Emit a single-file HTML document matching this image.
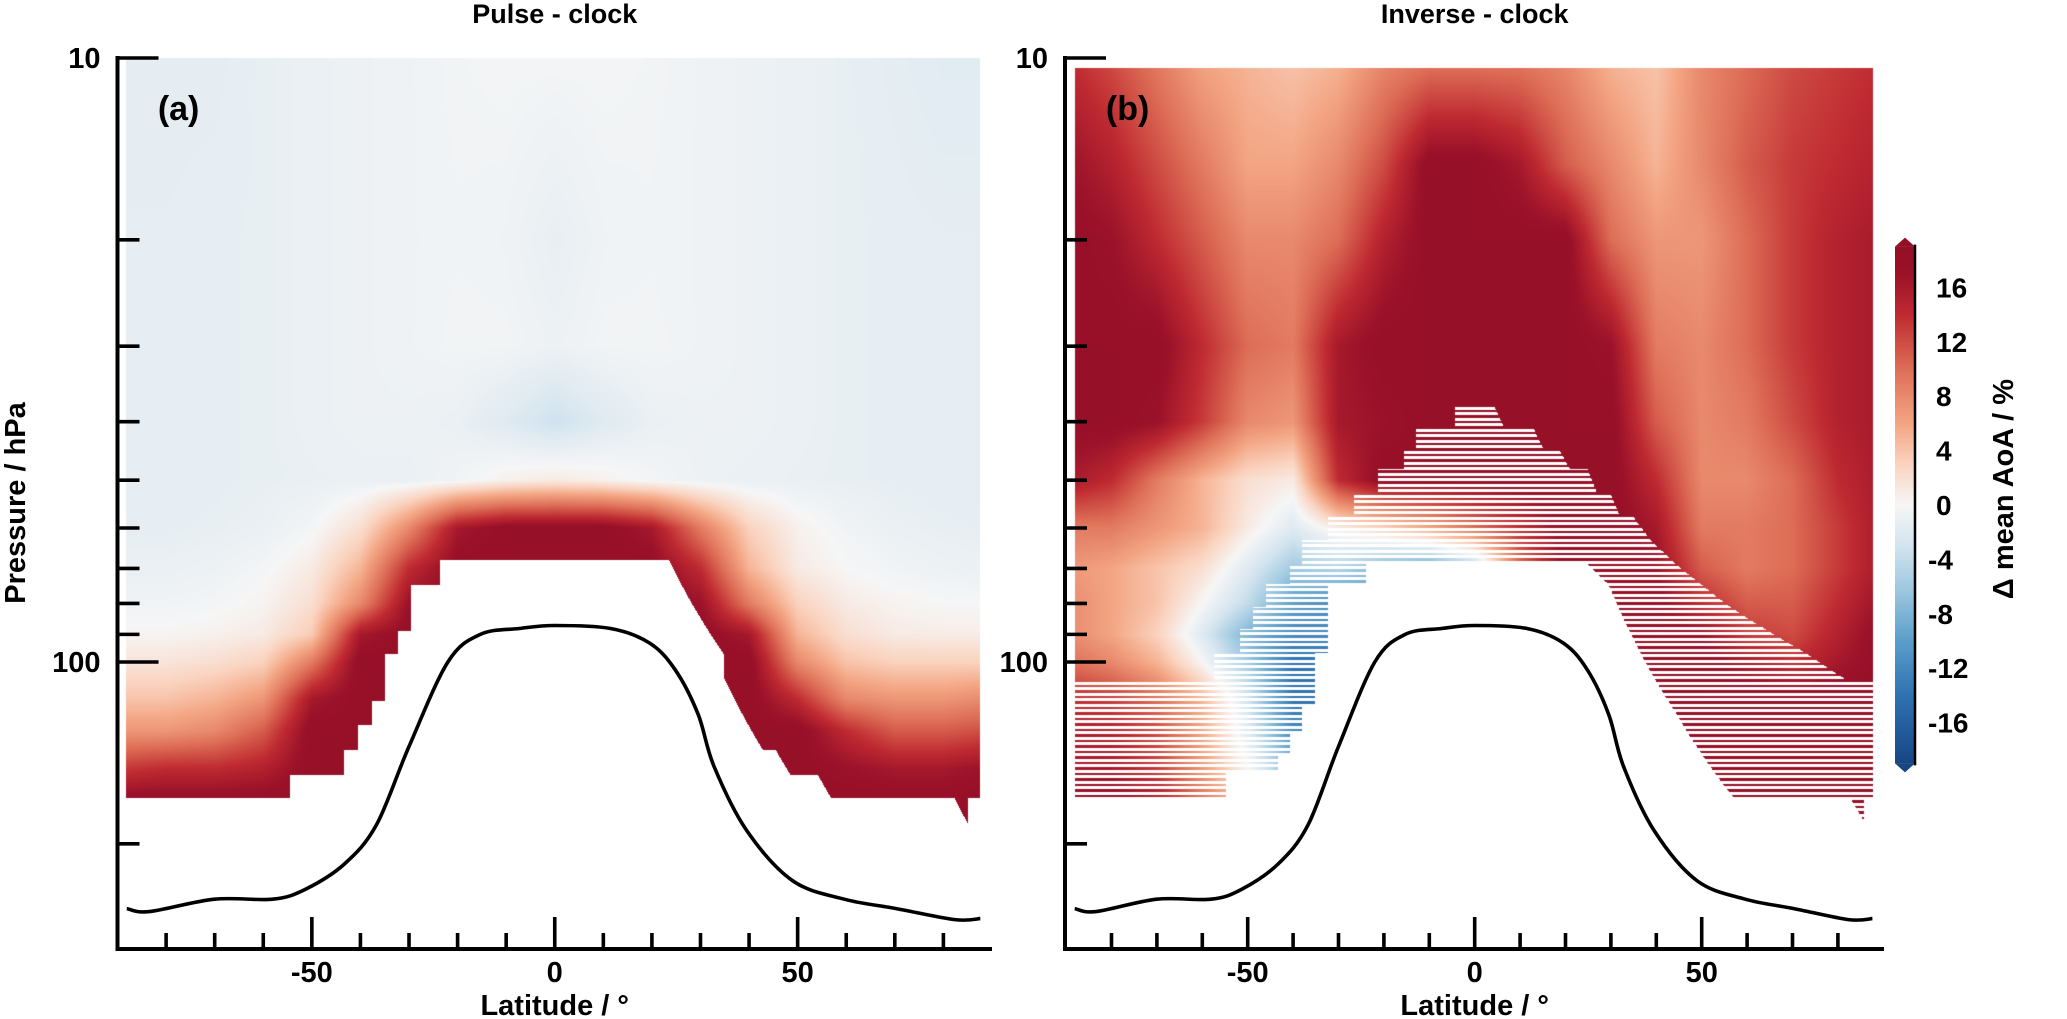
<!DOCTYPE html>
<html><head><meta charset="utf-8"><style>
html,body{margin:0;padding:0;background:#fff;}
#wrap{position:relative;width:2067px;height:1019px;overflow:hidden;font-family:"Liberation Sans",Arial,sans-serif;}
canvas{position:absolute;left:0;top:0;}
svg{position:absolute;left:0;top:0;}
</style></head><body>
<div id="wrap">
<canvas id="cv" width="2067" height="1019"></canvas>
<svg id="sv" width="2067" height="1019"></svg>
</div>
<script>
// ---------- data ----------
const latGrid = [-90,-80,-70,-60,-50,-40,-30,-20,-10,0,10,20,30,40,50,60,70,80,90];
const levelsA = [10,20,30,40,50,60,70,80,90,100,115,130,150,170];
const valuesA = [
 [-1.5,-1.5,-1.5,-1.2,-1,-0.8,-0.6,-0.4,-0.3,-0.3,-0.3,-0.4,-0.6,-0.8,-1,-1.2,-1.5,-1.8,-1.8],
 [-1.4,-1.4,-1.3,-1.2,-1,-0.8,-0.6,-0.5,-0.6,-1.2,-0.6,-0.5,-0.6,-0.8,-1,-1.2,-1.3,-1.4,-1.4],
 [-1.4,-1.4,-1.3,-1.2,-1,-0.8,-0.6,-0.4,-0.4,-0.8,-0.4,-0.4,-0.6,-0.8,-1,-1.2,-1.3,-1.4,-1.4],
 [-1.4,-1.4,-1.3,-1.2,-1,-0.8,-0.8,-1,-2,-3.2,-2,-1,-0.8,-0.8,-1,-1.2,-1.3,-1.4,-1.4],
 [-1.4,-1.4,-1.3,-1.2,-1.1,-1,-1,-0.5,0.5,1,0.5,-0.3,-0.8,-1,-1.1,-1.2,-1.3,-1.4,-1.4],
 [-1.3,-1.3,-1.2,-1.0,-0.3,2,8,16,18,18,18,16,9,3,0.5,-0.5,-1,-1.2,-1.3],
 [-1,-1,-0.8,-0.3,1,5,14,18,18,18,18,18,14,5,1,0,-0.5,-0.8,-1],
 [-0.5,-0.5,-0.3,0.3,2,8,17,18,18,18,18,18,17,9,3,1,0.3,0,0],
 [0.2,0.2,0.5,1,3.5,16,18,18,18,18,18,18,18,16,5,2,1,0.8,0.8],
 [1.5,1.5,2,3,9,18,18,18,18,18,18,18,18,18,8,4,3,3,3],
 [4,4,5,7,16,18,18,18,18,18,18,18,18,18,14,8,7,7,8],
 [7,7,8,11,18,18,18,18,18,18,18,18,18,18,18,14,11,11,12],
 [13,14,14,15,18,18,18,18,18,18,18,18,18,18,18,17,16,16,17],
 [18,18,18,18,18,18,18,18,18,18,18,18,18,18,18,18,18,18,18]
];
const levelsB = [10,15,20,30,40,50,60,70,80,90,100,115,130,150,170];
const valuesB = [
 [14,12,9,6,5,4,5,8,9,9,9,8,5,4,8,10,12,13,14],
 [17,15,12,9,6,6,8,12,18,18,16,11,8,5,8,11,13,14,15],
 [18,17,14,11,8,8,10,15,18,18,18,18,10,7,7,10,13,15,16],
 [18,18,18,14,10,9,16,18,18,18,18,18,17,9,8,10,13,15,16],
 [18,18,17,13,8,7,16,17,18,18,18,18,18,11,8,9,12,15,16],
 [16,14,9,5,2,1,14,18,18,18,18,18,18,14,8,8,10,14,16],
 [9,9,7,5,1,-2,1,3,6,10,14,18,18,16,9,9,10,13,16],
 [7,6,4,2,-2,-6,-5,-8,-10,-6,10,18,18,17,11,9,10,13,16],
 [8,6,4,0,-4,-10,-12,-10,-8,-4,8,16,18,18,14,11,11,14,17],
 [8,6,3,-2,-8,-12,-12,-10,-8,-4,8,16,18,18,17,13,12,15,18],
 [10,8,5,0,-6,-14,-14,-10,-8,-4,8,16,18,18,18,16,14,16,18],
 [14,13,10,5,-3,-14,-14,-10,-8,-4,8,16,18,18,18,18,18,18,18],
 [16,15,12,6,-2,-12,-12,-10,-8,-4,8,16,18,18,18,18,18,18,18],
 [16,16,13,7,0,-8,-8,-8,-8,-4,8,16,18,18,18,18,18,18,18],
 [18,18,16,10,4,0,0,0,0,0,8,16,18,18,18,18,18,18,18]
];
const maskALat = [-88.5,-54.4,-54.4,-43.3,-43.3,-40.4,-40.4,-37.7,-37.7,-35,-35,-32.3,-32.3,-29.6,-29.6,-23.7,-23.7,23.5,34.8,34.8,42.9,45.5,48.6,54.2,56.9,82.3,85,85,87.6];
const maskAP   = [168,168,154,154,140,140,127,127,116,116,97,97,89,89,74.5,74.5,67.8,67.8,97,106,140,140,154,154,168,168,185,168,168];
const hatchLat = [-88.1,-57.4,-57.4,-51.6,-51.6,-48.8,-48.8,-45.9,-45.9,-40.6,-40.6,-38.1,-38.1,-32.3,-32.3,-26.6,-26.6,-21.2,-21.2,-15.5,-15.5,-12.9,-12.9,-4.4,-4.4,4.1,6.3,12.7,15,18.4,21,24.9,27,29.9,32,34.9,38.5,44.2,49.9,56.3,64.2,72.8,81.4,87.8];
const hatchP   = [106.5,106.5,96.5,96.5,88.1,88.1,81.1,81.1,74.4,74.4,68.7,68.7,62.9,62.9,57.4,57.4,52.6,52.6,47.9,47.9,44.2,44.2,40.6,40.6,37.4,37.4,40.6,40.6,44.2,44.2,47.9,47.9,52.6,52.6,57.4,57.4,62.5,68.7,74.4,81.1,88.4,96.5,106.5,106.5];
const botBLat = [-88.1,-54.8,-54.8,-43.3,-43.3,-40.6,-40.6,-38.1,-38.1,-35.2,-35.2,-32.3,-32.3,-24,-24,24.2,29.5,44.2,57.1,82.8,85.7,85.7,87.8];
const botBP   = [168,168,152.5,152.5,141.6,141.6,129.9,129.9,117.6,117.6,96.5,96.5,74.4,74.4,68.2,68.2,74.4,121,168,168,183.6,168,168];
const tpLat = [-88.1,-83.4,-70.1,-58.1,-51.4,-43.3,-36.7,-30.0,-22.0,-15.3,-7.3,0,11.5,19.5,24.8,29.5,32.8,39.5,48.9,59.6,70.3,82.3,87.6];
const tpP   = [256,259,247,247,238,216,186,138,100,90,88,87,88,93,103,122,149,190,230,247,256,267,266];
const xTickMajor = [-50,0,50];
const xTickMinor = [-80,-70,-60,-40,-30,-20,-10,10,20,30,40,60,70,80];
const yTickMajor = [10,100];
const yTickMinor = [20,30,40,50,60,70,80,90,200];
const cbTicks = [16,12,8,4,0,-4,-8,-12,-16];
const cmapV = [-19,-18,-14,-10,-6,-3,0,3,6,10,14,17,19];
const cmapC = ['#174682','#1c4f8f','#2f72b1','#5c9ec9','#a1cae1','#d3e4ef','#f6f6f6','#fad3bf','#f3a583','#dd6d56','#bf2a31','#9a1129','#930f26'];

// ---------- scales ----------
const yP = p => 58 + 604*Math.log10(p/10);
const pY = y => 10*Math.pow(10,(y-58)/604);
const xA = lat => 554.75 + 4.858*lat;
const xB = lat => 1474.7 + 4.54*lat;
const hex = h => [parseInt(h.substr(1,2),16),parseInt(h.substr(3,2),16),parseInt(h.substr(5,2),16)];
const cmapRGB = cmapC.map(hex);
function color(v){
  if(v<=cmapV[0]) return cmapRGB[0];
  for(let i=0;i<cmapV.length-1;i++){
    if(v<=cmapV[i+1]){const f=(v-cmapV[i])/(cmapV[i+1]-cmapV[i]);const a=cmapRGB[i],b=cmapRGB[i+1];
      return [a[0]+(b[0]-a[0])*f,a[1]+(b[1]-a[1])*f,a[2]+(b[2]-a[2])*f];}
  }
  return cmapRGB[cmapRGB.length-1];
}
function field(vals,levels,lat,p){
  let fi=(lat+90)/10; fi=Math.max(0,Math.min(17.9999,fi)); const i=Math.floor(fi), fx=fi-i;
  const lp=Math.log10(p); let k=0;
  if(p<=levels[0]){k=0;} else if(p>=levels[levels.length-1]){k=levels.length-2;}
  else {while(k<levels.length-2 && levels[k+1]<p) k++;}
  let fy=(lp-Math.log10(levels[k]))/(Math.log10(levels[k+1])-Math.log10(levels[k]));
  fy=Math.max(0,Math.min(1,fy));
  const a=vals[k][i],b=vals[k][i+1],c=vals[k+1][i],d=vals[k+1][i+1];
  return (a*(1-fx)+b*fx)*(1-fy)+(c*(1-fx)+d*fx)*fy;
}
function bound(lats,ps,lat){
  if(lat<=lats[0]) return ps[0];
  for(let i=0;i<lats.length-1;i++){
    if(lats[i+1]>lats[i] && lat>=lats[i] && lat<=lats[i+1]){
      const f=(lat-lats[i])/(lats[i+1]-lats[i]); return ps[i]+(ps[i+1]-ps[i])*f;}
  }
  return ps[ps.length-1];
}
// ---------- heatmaps ----------
const cv=document.getElementById('cv'), ctx=cv.getContext('2d');
const img=ctx.createImageData(2067,1019), D=img.data;
for(let i=0;i<D.length;i+=4){D[i]=D[i+1]=D[i+2]=255;D[i+3]=255;}
function put(x,y,c){const o=(y*2067+x)*4;D[o]=c[0];D[o+1]=c[1];D[o+2]=c[2];}
{const x0=Math.round(xA(-88.3)),x1=Math.round(xA(87.6)),y0=58,y1=Math.round(yP(190));
 for(let x=x0;x<x1;x++){const lat=(x+0.5-554.75)/4.858;const mb=bound(maskALat,maskAP,lat);
  for(let y=y0;y<y1;y++){const p=pY(y+0.5); if(p>mb) continue; put(x,y,color(field(valuesA,levelsA,lat,p)));}}}
{const x0=Math.round(xB(-88.1)),x1=Math.round(xB(87.7)),y0=68,y1=Math.round(yP(190));const h0=yP(106.5);
 for(let x=x0;x<x1;x++){const lat=(x+0.5-1474.7)/4.54;const ht=bound(hatchLat,hatchP,lat),bb=bound(botBLat,botBP,lat);
  for(let y=y0;y<y1;y++){const p=pY(y+0.5); if(p>bb) continue;
   const c=color(field(valuesB,levelsB,lat,p));
   if(p<=ht){put(x,y,c);} else {const ph=((y-h0)%5.5+5.5)%5.5; if(ph<2.5){put(x,y,c);} }}}}
ctx.putImageData(img,0,0);

// ---------- svg ----------
const NS='http://www.w3.org/2000/svg', sv=document.getElementById('sv');
function el(tag,attrs,parent){const e=document.createElementNS(NS,tag);for(const k in attrs)e.setAttribute(k,attrs[k]);(parent||sv).appendChild(e);return e;}
function txt(s,attrs,parent){const e=el('text',attrs,parent);e.textContent=s;return e;}
const bold={'font-family':'"Liberation Sans", Arial, sans-serif','font-weight':'bold',fill:'#000'};
function smoothPath(pts){
  let d='M'+pts[0][0].toFixed(1)+' '+pts[0][1].toFixed(1);
  for(let i=0;i<pts.length-1;i++){
    const p0=pts[Math.max(0,i-1)],p1=pts[i],p2=pts[i+1],p3=pts[Math.min(pts.length-1,i+2)];
    const c1=[p1[0]+(p2[0]-p0[0])/6,p1[1]+(p2[1]-p0[1])/6],c2=[p2[0]-(p3[0]-p1[0])/6,p2[1]-(p3[1]-p1[1])/6];
    d+=` C${c1[0].toFixed(1)} ${c1[1].toFixed(1)} ${c2[0].toFixed(1)} ${c2[1].toFixed(1)} ${p2[0].toFixed(1)} ${p2[1].toFixed(1)}`;
  }
  return d;
}
function panel(id,xs,left,right,title,lab){
  const g=el('g',{});
  
  
  const pts=tpLat.map((la,i)=>[xs(la),yP(tpP[i])]);
  const tl=el('path',{d:smoothPath(pts),fill:'none',stroke:'#000','stroke-width':3.6,'stroke-linejoin':'round'},g);
  
  
  const ys=el('line',{x1:left,y1:56,x2:left,y2:951,stroke:'#000','stroke-width':4},g);
  
  
  const xsp=el('line',{x1:left-2,y1:949,x2:right,y2:949,stroke:'#000','stroke-width':4},g);
  
  
  yTickMajor.forEach(p=>{const t=el('line',{x1:left,x2:left+41,y1:yP(p),y2:yP(p),stroke:'#000','stroke-width':3.6},g);
    
    
    const l=txt(String(p),Object.assign({x:left-17,y:yP(p)+10,'font-size':29,'text-anchor':'end'},bold),g);
    
    });
  yTickMinor.forEach(p=>{const t=el('line',{x1:left,x2:left+22,y1:yP(p),y2:yP(p),stroke:'#000','stroke-width':3.6},g);
    
    });
  xTickMajor.forEach(v=>{const t=el('line',{x1:xs(v),x2:xs(v),y1:949,y2:917,stroke:'#000','stroke-width':3.6},g);
    
    
    const l=txt(String(v),Object.assign({x:xs(v),y:982,'font-size':29,'text-anchor':'middle'},bold),g);
    
    });
  xTickMinor.forEach(v=>{const t=el('line',{x1:xs(v),x2:xs(v),y1:949,y2:933,stroke:'#000','stroke-width':3.6},g);
    
    });
  const tt=txt(title,Object.assign({x:xs(0),y:23,'font-size':27,'text-anchor':'middle'},bold),g);
  
  
  const xl=txt('Latitude / °',Object.assign({x:xs(0),y:1015,'font-size':29,'text-anchor':'middle'},bold),g);
  
  
  const pl=txt(lab,Object.assign({x:xs(-88.5)+33,y:120,'font-size':34},bold),g);
  
  
}
panel('panel-a',xA,117.5,992,'Pulse - clock','(a)');
panel('panel-b',xB,1065,1884,'Inverse - clock','(b)');
const yl=txt('Pressure / hPa',Object.assign({x:0,y:0,'font-size':29,'text-anchor':'middle',transform:'translate(25,503) rotate(-90)'},bold));


const cbY = v => 505 - v*13.6;
const defs=el('defs',{});
const gr=el('linearGradient',{id:'cbg',x1:0,y1:1,x2:0,y2:0},defs);
cmapV.forEach((v,i)=>{el('stop',{offset:((v+19)/38).toFixed(4),'stop-color':cmapC[i]},gr);});
const cb=el('g',{});


const bar=el('rect',{x:1895,y:cbY(19),width:20,height:cbY(-19)-cbY(19),fill:'url(#cbg)'},cb);


const tri1=el('path',{d:`M1895 ${cbY(19)} L1905 ${cbY(19)-9} L1915 ${cbY(19)} Z`,fill:cmapC[cmapC.length-1]},cb);


const tri2=el('path',{d:`M1895 ${cbY(-19)} L1905 ${cbY(-19)+9} L1915 ${cbY(-19)} Z`,fill:cmapC[0]},cb);


const cbl=el('line',{x1:1915,x2:1915,y1:cbY(19)-2,y2:cbY(-19)+2,stroke:'#000','stroke-width':2.5},cb);


cbTicks.forEach(v=>{const l=txt(String(v),Object.assign({x:v<0?1928:1936,y:cbY(v)+10,'font-size':28},bold),cb);
  
  });
const cbt=txt('Δ mean AoA / %',Object.assign({x:0,y:0,'font-size':29,'text-anchor':'middle',transform:'translate(2013,489) rotate(-90)'},bold),cb);


</script>
</body></html>
